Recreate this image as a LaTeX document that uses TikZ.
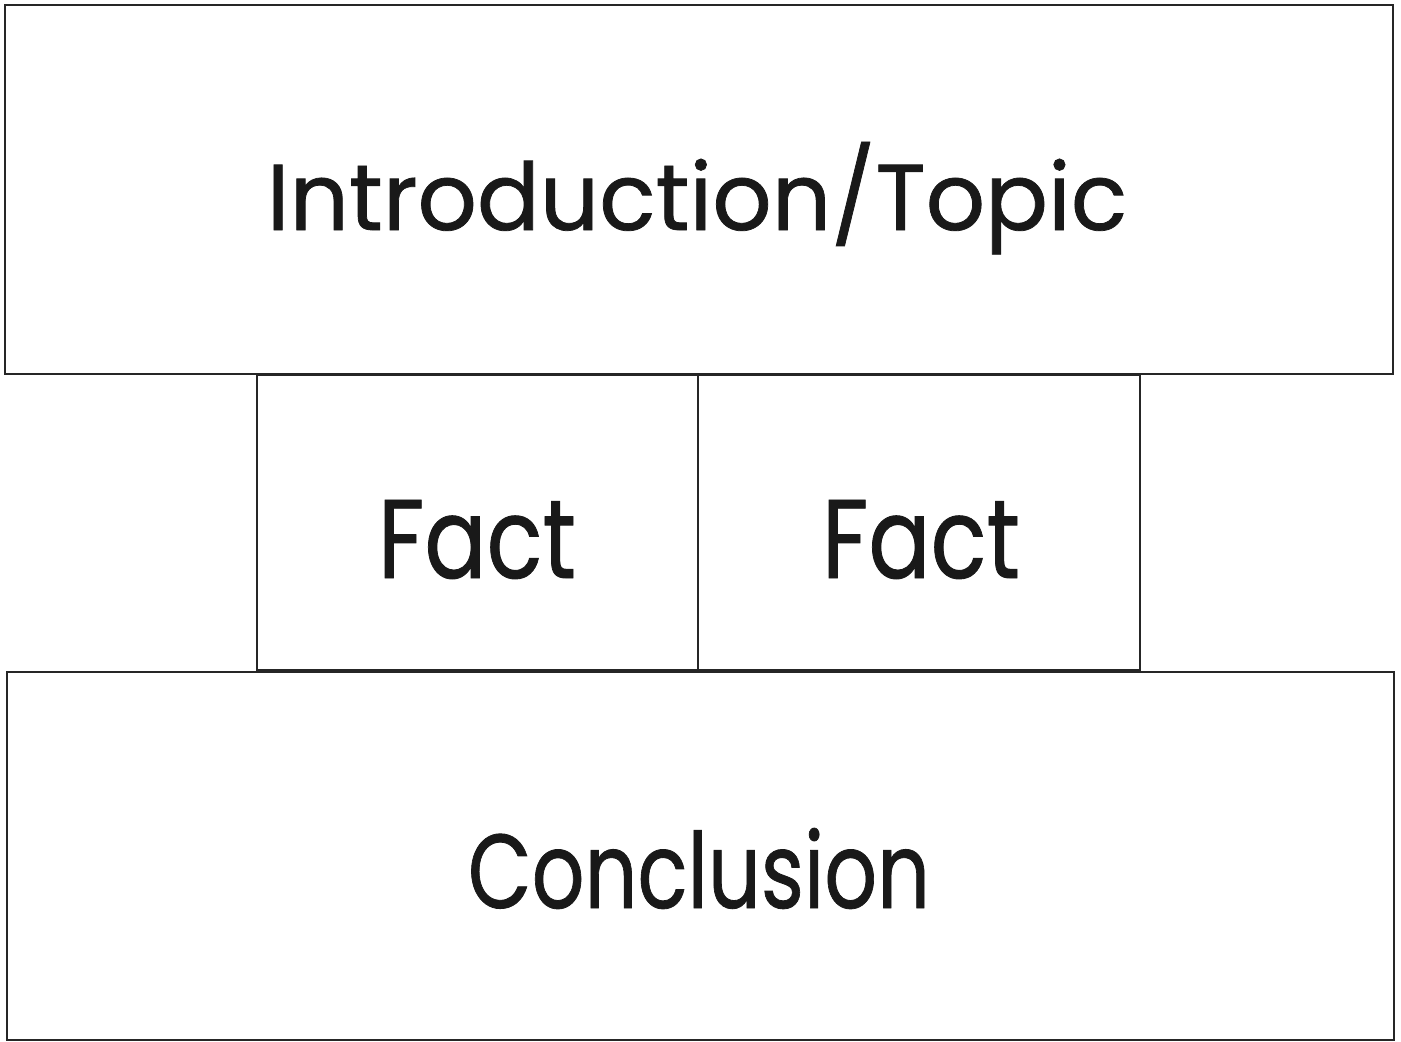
\documentclass[tikz,border=0pt]{standalone}
\usepackage{fontspec}
\setmainfont[FakeBold=0.8]{Poppins}
\usepackage{graphicx}
\begin{document}
\begin{tikzpicture}[x=1pt,y=-1pt,
  boxstyle/.style={draw=black!85, line width=2pt},
  lbl/.style={anchor=base, inner sep=0pt, text=black!90}]
\useasboundingbox (0,0) rectangle (1401,1042);
\fill[white] (0,0) rectangle (1401,1042);
\draw[boxstyle] (5,5) rectangle (1393,374);
\draw[boxstyle] (257,375) rectangle (698,670);
\draw[boxstyle] (698,375) rectangle (1140,670);
\draw[boxstyle] (7,672) rectangle (1394,1040);
\node[lbl] (intro) at (697,230) {\resizebox{860pt}{88pt}{Introduction/Topic}};
\node[lbl] (fact1) at (477,578) {\resizebox{198pt}{78pt}{Fact}};
\node[lbl] (fact2) at (921,578) {\resizebox{198pt}{78pt}{Fact}};
\node[lbl] (concl) at (699,908) {\resizebox{462pt}{80pt}{Conclusion}};
\end{tikzpicture}
\end{document}
